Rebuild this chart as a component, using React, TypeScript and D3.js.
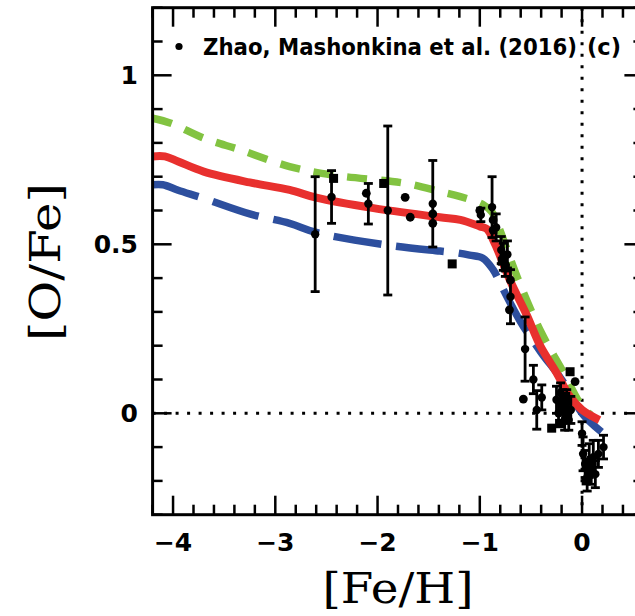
import React from "react";
import * as d3 from "d3";

const W = 635;
const H = 616;

// Model curves: [Fe/H], [O/Fe]
const redCurve: [number, number][] = [
  [-4.2, 0.76], [-4.08, 0.76], [-3.95, 0.745], [-3.7, 0.715], [-3.25, 0.683], [-2.86, 0.661],
  [-2.6, 0.638], [-2.04, 0.607], [-1.39, 0.58], [-1.19, 0.572], [-1.0, 0.553], [-0.93, 0.545],
  [-0.85, 0.5], [-0.7, 0.39], [-0.54, 0.29], [-0.41, 0.2], [-0.25, 0.12], [-0.12, 0.05],
  [0.0, 0.01], [0.17, -0.02],
];
const greenCurve: [number, number][] = [
  [-4.2, 0.873], [-4.02, 0.858], [-3.7, 0.814], [-3.34, 0.779], [-2.86, 0.73], [-2.44, 0.705],
  [-1.72, 0.68], [-1.39, 0.656], [-1.19, 0.641], [-0.97, 0.618], [-0.88, 0.595], [-0.82, 0.555],
  [-0.63, 0.4], [-0.4, 0.24], [-0.18, 0.12], [-0.02, 0.03], [0.1, -0.01],
];
const blueCurve: [number, number][] = [
  [-4.2, 0.676], [-4.1, 0.676], [-3.95, 0.66], [-3.7, 0.636], [-3.25, 0.59], [-2.86, 0.562],
  [-2.6, 0.535], [-1.91, 0.498], [-1.39, 0.48], [-1.23, 0.475], [-1.1, 0.468], [-0.97, 0.459],
  [-0.87, 0.425], [-0.785, 0.375], [-0.6, 0.27], [-0.4, 0.18], [-0.2, 0.1], [0.0, 0.0],
  [0.19, -0.055],
];

// Observations: [Fe/H], [O/Fe], error
const errPoints: [number, number, number][] = [
  [-2.61, 0.53, 0.17], [-2.45, 0.64, 0.078], [-2.09, 0.62, 0.06], [-1.9, 0.6, 0.25],
  [-1.46, 0.62, 0.128], [-0.99, 0.587, 0.02], [-0.88, 0.61, 0.09], [-0.84, 0.55, 0.04],
  [-0.79, 0.483, 0.04], [-0.77, 0.463, 0.04], [-0.75, 0.44, 0.035], [-0.73, 0.47, 0.04],
  [-0.7, 0.345, 0.08], [-0.557, 0.19, 0.095], [-0.476, 0.1, 0.042], [-0.443, 0.01, 0.057],
  [-0.394, 0.047, 0.037], [-0.25, 0.04, 0.04], [-0.23, 0.0, 0.04], [-0.21, 0.06, 0.03],
  [-0.19, 0.02, 0.05], [-0.17, -0.02, 0.03], [-0.15, 0.03, 0.04], [-0.13, -0.02, 0.03],
  [-0.11, 0.01, 0.04], [0.0, -0.06, 0.035], [0.01, -0.12, 0.05], [0.03, -0.15, 0.04],
  [0.05, -0.19, 0.04], [0.07, -0.14, 0.05], [0.09, -0.17, 0.04], [0.11, -0.13, 0.05],
  [0.13, -0.18, 0.04], [0.16, -0.12, 0.04], [0.21, -0.1, 0.035],
];
const circlePoints: [number, number][] = [
  [-2.11, 0.651], [-1.73, 0.639], [-1.68, 0.58], [-1.46, 0.59], [-1.46, 0.562], [-0.87, 0.572],
  [-0.87, 0.542], [-0.7, 0.394], [-0.71, 0.306], [-0.574, 0.042], [-0.068, 0.094], [-1.0, 0.6],
];
const squarePoints: [number, number][] = [
  [-2.43, 0.695], [-1.94, 0.68], [-1.27, 0.442], [-0.78, 0.45], [-0.75, 0.43], [-0.297, -0.044],
  [-0.22, -0.03], [-0.16, 0.05], [-0.117, 0.123], [0.04, -0.2],
];

const xTickValues = [-4, -3, -2, -1, 0];
const xTickLabels = ["\u22124", "\u22123", "\u22122", "\u22121", "0"];
const yTickValues = [0, 0.5, 1];
const yTickLabels = ["0", "0.5", "1"];
const legendLabel = "Zhao, Mashonkina et al. (2016)";
const panelLabel = "(c)";

export default function App() {
  const x = d3.scaleLinear().domain([-4.2, 0.6]).range([152.6, 643.4]);
  const y = d3.scaleLinear().domain([-0.3, 1.2]).range([514.7, 7.7]);
  const [x0, x1] = x.range();
  const [y0, y1] = y.range();

  const line = d3
    .line<[number, number]>()
    .x((d) => x(d[0]))
    .y((d) => y(d[1]))
    .curve(d3.curveCatmullRom.alpha(0.5));

  const xMinor = d3.range(-4.2, 0.61, 0.2).map((v) => Math.round(v * 10) / 10);
  const yMinor = d3.range(-0.3, 1.21, 0.1).map((v) => Math.round(v * 10) / 10);
  const isMajorX = (v: number) => Math.abs(v - Math.round(v)) < 1e-6;
  const isMajorY = (v: number) => Math.abs(v * 2 - Math.round(v * 2)) < 1e-6;
  const MAJ = 19;
  const MIN = 10;
  const tickFont = "'DejaVu Sans', sans-serif";

  return (
    <svg
      width={W}
      height={H}
      style={{ position: "absolute", left: 0, top: 0, background: "#fff" }}
    >
      <rect x={0} y={0} width={W} height={H} fill="#fff" />
      {/* dotted zero lines */}
      <line x1={x0} x2={x1} y1={y(0)} y2={y(0)} stroke="#000" strokeWidth={3} strokeDasharray="3 8.5" />
      <line x1={x(0)} x2={x(0)} y1={y1} y2={y0} stroke="#000" strokeWidth={3} strokeDasharray="3 8.5" />

      {/* model curves */}
      <path d={line(blueCurve) || ""} fill="none" stroke="#2d4f9e" strokeWidth={7.5} strokeDasharray="48 15" />
      <path d={line(greenCurve) || ""} fill="none" stroke="#82c341" strokeWidth={7.5} strokeDasharray="20 14" />
      <path d={line(redCurve) || ""} fill="none" stroke="#e8302e" strokeWidth={8} />

      {/* error bars */}
      {errPoints.map(([fx, oy, e], i) => (
        <g key={"e" + i} stroke="#000" strokeWidth={2.8}>
          <line x1={x(fx)} x2={x(fx)} y1={y(oy - e)} y2={y(oy + e)} />
          <line x1={x(fx) - 4.5} x2={x(fx) + 4.5} y1={y(oy - e)} y2={y(oy - e)} />
          <line x1={x(fx) - 4.5} x2={x(fx) + 4.5} y1={y(oy + e)} y2={y(oy + e)} />
          <circle cx={x(fx)} cy={y(oy)} r={4.2} fill="#000" stroke="none" />
        </g>
      ))}
      {circlePoints.map(([fx, oy], i) => (
        <circle key={"c" + i} cx={x(fx)} cy={y(oy)} r={4.4} fill="#000" />
      ))}
      {squarePoints.map(([fx, oy], i) => (
        <rect key={"s" + i} x={x(fx) - 4.5} y={y(oy) - 4.5} width={9} height={9} fill="#000" />
      ))}

      {/* ticks */}
      {xMinor.map((v) => {
        const L = isMajorX(v) ? MAJ : MIN;
        return (
          <g key={"xt" + v} stroke="#000" strokeWidth={2.5}>
            <line x1={x(v)} x2={x(v)} y1={y0} y2={y0 - L} />
            <line x1={x(v)} x2={x(v)} y1={y1} y2={y1 + L} />
          </g>
        );
      })}
      {yMinor.map((v) => {
        const L = isMajorY(v) ? MAJ : MIN;
        return (
          <g key={"yt" + v} stroke="#000" strokeWidth={2.5}>
            <line x1={x0} x2={x0 + L} y1={y(v)} y2={y(v)} />
            <line x1={x1} x2={x1 - L} y1={y(v)} y2={y(v)} />
          </g>
        );
      })}

      {/* frame */}
      <rect x={x0} y={y1} width={x1 - x0} height={y0 - y1} fill="none" stroke="#000" strokeWidth={3} />

      {/* tick labels */}
      {xTickValues.map((v, i) => (
        <text
          key={"xl" + v}
          x={x(v)}
          y={551}
          textAnchor="middle"
          fontFamily={tickFont}
          fontWeight="bold"
          fontSize={25}
          fill="#000"
        >
          {xTickLabels[i]}
        </text>
      ))}
      {yTickValues.map((v, i) => (
        <text
          key={"yl" + v}
          x={138}
          y={y(v) + 9}
          textAnchor="end"
          fontFamily={tickFont}
          fontWeight="bold"
          fontSize={25}
          fill="#000"
        >
          {yTickLabels[i]}
        </text>
      ))}

      {/* axis titles */}
      <text
        x={398}
        y={603}
        textAnchor="middle"
        fontFamily="'DejaVu Serif', serif"
        fontSize={42}
        textLength={151}
        lengthAdjust="spacingAndGlyphs"
        fill="#000"
      >
        [Fe/H]
      </text>
      <text
        transform={`translate(60, ${262}) rotate(-90)`}
        textAnchor="middle"
        fontFamily="'DejaVu Serif', serif"
        fontSize={42}
        textLength={158}
        lengthAdjust="spacingAndGlyphs"
        fill="#000"
      >
        [O/Fe]
      </text>

      {/* legend */}
      <circle cx={179} cy={46.5} r={3.6} fill="#000" />
      <text
        transform="translate(203, 55) scale(1, 1.15)"
        fontFamily={tickFont}
        fontWeight="bold"
        fontSize={20.5}
        textLength={374}
        lengthAdjust="spacingAndGlyphs"
        fill="#000"
      >
        {legendLabel}
      </text>
      <text
        transform="translate(587, 55) scale(1, 1.15)"
        fontFamily={tickFont}
        fontWeight="bold"
        fontSize={20.5}
        textLength={34}
        lengthAdjust="spacingAndGlyphs"
        fill="#000"
      >
        {panelLabel}
      </text>
    </svg>
  );
}
